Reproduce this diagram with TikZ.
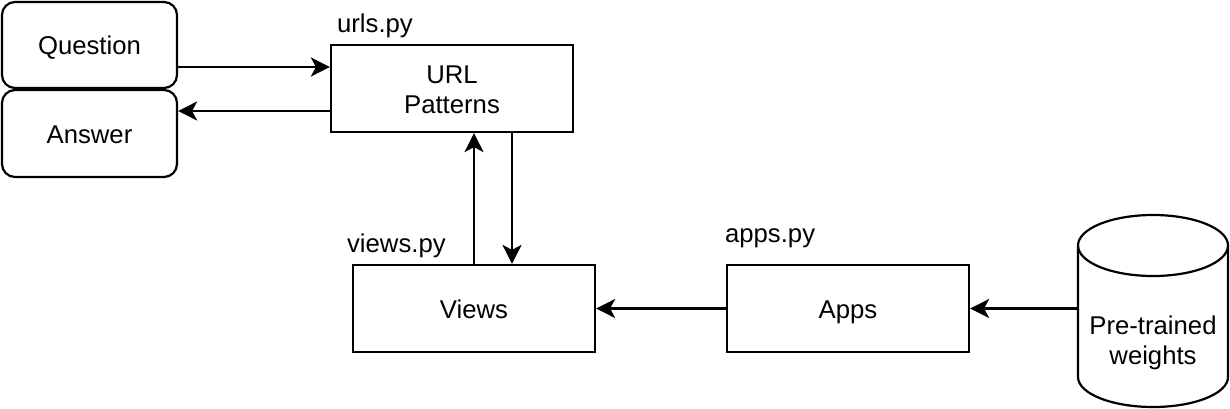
\documentclass[tikz,border=0pt]{standalone}
\usepackage{fontspec}
\setmainfont{Liberation Sans}
\usetikzlibrary{arrows.meta,calc}

\begin{document}
\begin{tikzpicture}[x=1pt,y=-1pt,line width=2.2pt,
  box/.style={draw,minimum width=242pt,minimum height=87pt,align=center,font=\fontsize{25.7}{30}\selectfont},
  rbox/.style={box,rounded corners=13pt,minimum width=175pt},
  oneline/.style={text height=25pt,text depth=5.5pt},
  file/.style={anchor=base west,inner sep=0pt,font=\fontsize{25.7}{30}\selectfont},
  arr/.style={-{Stealth[length=19pt,width=19pt,inset=5pt]}}]
\useasboundingbox (0,0) rectangle (1230,409);
% boxes
\node[rbox,oneline,minimum height=86pt] (question) at (89.5,45) {Question};
\node[rbox,oneline] (answer) at (89.5,133.5) {Answer};
\node[box] (url) at (452,88.5) {\strut URL\\Patterns};
\node[box,oneline] (views) at (474,308.5) {Views};
\node[box,oneline] (apps) at (848,308.5) {Apps};
% file names
\node[file] (urlspy) at (336,33) {urls.py};
\node[file] (viewspy) at (346,252) {views.py};
\node[file] (appspy) at (724,242) {apps.py};
% cylinder
\draw (1153,245.5) ellipse [x radius=75pt,y radius=30.5pt];
\draw (1078,245.5) -- (1078,377) arc[start angle=180,end angle=360,x radius=75pt,y radius=30pt] -- (1228,245.5);
\node[align=center,font=\fontsize{25.7}{30}\selectfont] (weights) at (1153,343) {Pre-trained\\weights};
\coordinate (wleft) at (1078,308.5);
% arrows
\coordinate (qin) at ($(url.west)+(0,-21.5)$);
\coordinate (aout) at ($(url.west)+(0,22.5)$);
\coordinate (vin) at ($(views.north)+(38,0)$);
\draw[arr] (qin -| question.east) -- (qin);
\draw[arr] (aout) -- (aout -| answer.east);
\draw[arr] (views.north) -- (views.north |- url.south);
\draw[arr] (vin |- url.south) -- (vin);
\draw[arr] (apps.west) -- (views.east);
\draw[arr] (wleft) -- (apps.east);
\end{tikzpicture}
\end{document}
